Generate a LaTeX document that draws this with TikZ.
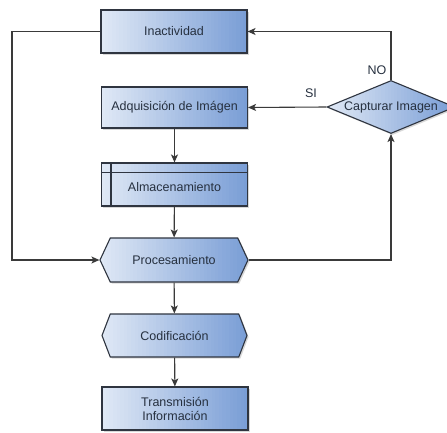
\documentclass[tikz,border=0pt]{standalone}
\usepackage{fontspec}
\setmainfont{Liberation Sans}
\usetikzlibrary{shapes.geometric,shapes.symbols,shadows,arrows.meta,calc}

\definecolor{fillL}{HTML}{DFE8F5}
\definecolor{fillR}{HTML}{7A9ED6}
\definecolor{edge}{HTML}{2F3540}
\definecolor{ink}{HTML}{26303F}
\definecolor{wire}{HTML}{3A3A3A}

\tikzset{
  % horizontal fill built from thin strips, light at the left, blue at the right
  gradfill/.style={path picture={
    \foreach \k in {0,...,39} {
      \pgfmathsetmacro\pct{\k*100/39}
      \fill[fillR!\pct!fillL]
        ($(path picture bounding box.south west)!{\k/40}!(path picture bounding box.south east)$)
        rectangle
        ($(path picture bounding box.north west)!{(\k+1.6)/40}!(path picture bounding box.north east)$);
    }}},
  shade/.style={gradfill, draw=edge, line width=1.1pt,
    drop shadow={shadow xshift=1.6pt, shadow yshift=-1.6pt, opacity=0.3}},
  txt/.style={text=ink, font=\fontsize{12.5}{14}\selectfont, align=center},
  procbox/.style={shade, txt, rectangle, minimum width=146pt, minimum height=43pt, inner sep=0pt},
  hexbox/.style={shade, txt, signal, signal to=west and east, signal pointer angle=#1,
    minimum width=148pt, minimum height=44pt, inner sep=0pt},
  decision/.style={shade, diamond, minimum width=128pt, minimum height=53pt, inner sep=0pt},
  flow/.style={draw=wire, line width=1.1pt, -{Stealth[length=8pt,width=7pt,inset=2pt]}},
  tag/.style={text=ink, font=\fontsize{12.5}{14}\selectfont}
}

\begin{document}
\begin{tikzpicture}[x=1pt, y=-1pt]
  \clip (0,0) rectangle (447,433);
  \fill[white] (0,0) rectangle (447,433);

  % process steps
  \node[procbox] (inac) at (174,31.5) {Inactividad};
  \node[procbox, minimum height=41pt] (adq) at (174.5,107.5) {Adquisición de Imágen};
  \node[procbox, label={[txt, yshift=-3pt]center:Almacenamiento}] (alm) at (174.5,184.5) {};
  \node[hexbox=130] (proc) at (174,260) {Procesamiento};
  \node[hexbox=138, minimum width=145pt, minimum height=43pt] (cod) at (174.5,335.5) {Codificación};
  \node[procbox] (tra) at (175,408.5) {Transmisión\\Información};

  % internal storage marks
  \draw[edge, line width=1.1pt] ([xshift=10pt]alm.north west) -- ([xshift=10pt]alm.south west);
  \draw[edge, line width=1.1pt] ([yshift=-10pt]alm.north west) -- ([yshift=-10pt]alm.north east);

  % decision
  \node[decision, label={[txt]center:Capturar Imagen}] (cap) at (391,107) {};

  % main chain
  \draw[flow] (adq) -- (alm);
  \draw[flow] (alm) -- (proc);
  \draw[flow] (proc) -- (cod);
  \draw[flow] (cod) -- (tra);

  % loop from idle state into processing
  \coordinate (lx) at (12,0);
  \draw[flow] (inac.west) -- (inac.west -| lx) |- (proc.west);

  % processing back to the decision
  \draw[flow] (proc.east) -| (cap.south);

  % decision outcomes
  \draw[flow] (cap.north) |- (inac.east);
  \draw[flow] (cap.west) -- (adq.east);
  \node[tag] at (377,70) {NO};
  \node[tag] at (311,93) {SI};
\end{tikzpicture}
\end{document}
